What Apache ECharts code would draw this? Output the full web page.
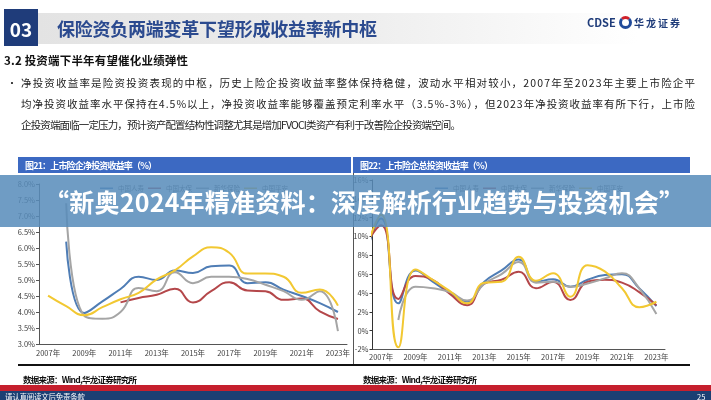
<!DOCTYPE html>
<html><head><meta charset="utf-8">
<script src="https://cdn.jsdelivr.net/npm/echarts@6/dist/echarts.min.js"></script>
<style>
body{margin:0;width:711px;height:400px;overflow:hidden;background:#fff;position:relative;font-family:"Noto Sans CJK SC",sans-serif}
.a{position:absolute;white-space:nowrap}
svg text{font-family:"Noto Sans CJK SC",sans-serif;dominant-baseline:central}
</style></head><body>
<!-- background shapes -->
<div class="a" style="left:38px;top:13px;width:600px;height:31px;background:linear-gradient(to right,#e3e3e3,#eeeeee 55%,#ffffff)"></div>
<div class="a" style="left:4px;top:9px;width:34px;height:37px;background:#1f3c7a"></div>
<div class="a" style="left:619px;top:16px;width:7px;height:7px;border:3px solid #1f4a9a;border-top-color:#d0202a;border-radius:50%"></div>
<div class="a" style="left:18px;top:157px;width:333px;height:16px;background:#3c69c2"></div>
<div class="a" style="left:353px;top:157px;width:337px;height:16px;background:#3c69c2"></div>
<div class="a" style="left:353px;top:173px;width:1px;height:192px;background:#555"></div>
<div class="a" style="left:18px;top:364px;width:672px;height:1.5px;background:#111"></div>
<div class="a" style="left:0;top:385px;width:711px;height:6px;background:#c51f2d"></div>
<div class="a" style="left:0;top:391px;width:711px;height:9px;background:#1b3f73"></div>
<!-- chart -->
<div id="chart" class="a" style="left:0;top:0;width:711px;height:400px"></div>
<!-- texts and banner -->
<svg class="a" style="left:0;top:0;z-index:5;pointer-events:none" width="711" height="400">
  <text x="21" y="28.5" font-size="19" font-weight="bold" fill="#fff" text-anchor="middle">03</text>
  <text x="57" y="28" font-size="18" font-weight="bold" fill="#2b4a8f" textLength="320" lengthAdjust="spacing">保险资负两端变革下望形成收益率新中枢</text>
  <text x="587" y="22" font-size="11" font-weight="bold" fill="#1f3c7a">CDSE</text>
  <text x="634" y="22.5" font-size="10" font-weight="bold" fill="#1f3c7a" textLength="46" lengthAdjust="spacing">华龙证券</text>
  <text x="4" y="60" font-size="11.5" font-weight="bold" fill="#111" textLength="184" lengthAdjust="spacing">3.2 投资端下半年有望催化业绩弹性</text>
  <text x="7" y="82" font-size="10" fill="#222">•</text>
  <text x="21" y="82" font-size="10.5" fill="#222" textLength="674" lengthAdjust="spacing">净投资收益率是险资投资表现的中枢，历史上险企投资收益率整体保持稳健，波动水平相对较小，2007年至2023年主要上市险企平</text>
  <text x="21" y="103" font-size="10.5" fill="#222" textLength="674" lengthAdjust="spacing">均净投资收益率水平保持在4.5%以上，净投资收益率能够覆盖预定利率水平（3.5%-3%），但2023年净投资收益率有所下行，上市险</text>
  <text x="21" y="124" font-size="10.5" fill="#222" textLength="440" lengthAdjust="spacing">企投资端面临一定压力，预计资产配置结构性调整尤其是增加FVOCI类资产有利于改善险企投资端空间。</text>
  <text x="25" y="165" font-size="9" font-weight="bold" fill="#fff" textLength="132" lengthAdjust="spacing">图21：上市险企净投资收益率（%）</text>
  <text x="360" y="165" font-size="9" font-weight="bold" fill="#fff" textLength="133" lengthAdjust="spacing">图22：上市险企总投资收益率（%）</text>
  <text x="23" y="379" font-size="8.5" font-weight="bold" fill="#111" textLength="114" lengthAdjust="spacing">数据来源：Wind,华龙证券研究所</text>
  <text x="363" y="379" font-size="8.5" font-weight="bold" fill="#111" textLength="114" lengthAdjust="spacing">数据来源：Wind,华龙证券研究所</text>
  <text x="5" y="396" font-size="7.5" fill="#fff" textLength="80" lengthAdjust="spacing">请认真阅读文后免责条款</text>
  <text x="697" y="396" font-size="7.5" fill="#fff">25</text>
  <rect x="0" y="175" width="711" height="52" fill="rgb(87,140,186)" fill-opacity="0.86"></rect>
  <text x="44" y="201" font-size="25" font-weight="bold" fill="#fff" textLength="640" lengthAdjust="spacing">“新奥2024年精准资料：深度解析行业趋势与投资机会”</text>
</svg>
<script>
// ---- data ----
var names = ['中国人寿','中国太保','新华保险','中国平安'];
var colors = ['#4f7db5','#b4474a','#a5a5a5','#f2c832'];

// 图21 净投资收益率 (%)
var years1 = ['2007','2008','2009','2010','2011','2012','2013','2014','2015','2016','2017','2018','2019','2020','2021','2022','2023'];
var life1 = [null,6.2,3.97,4.33,4.72,5.1,5.0,5.3,5.22,5.43,5.45,4.9,4.93,4.7,4.5,4.28,4.0];
var cpic1 = [null,null,null,null,4.3,4.44,4.54,4.73,4.3,4.65,4.93,4.67,4.65,4.38,4.42,4.02,3.78];
var nci1  = [null,7.4,3.88,3.79,4.0,4.75,4.65,5.24,4.9,5.1,5.1,5.03,4.85,4.65,4.38,4.65,3.4];
var pa1   = [4.51,4.18,3.9,4.15,4.4,4.6,5.02,5.3,5.74,6.02,5.85,5.2,5.2,5.1,4.6,4.7,4.2];

// 图22 总投资收益率 (%) ; first value is the lead-in year cut by the axis
var years2 = ['2007','2008','2009','2010','2011','2012','2013','2014','2015','2016','2017','2018','2019','2020','2021','2022','2023'];
var years2Num = [2006,2007,2008,2009,2010,2011,2012,2013,2014,2015,2016,2017,2018,2019,2020,2021,2022,2023];
var life2 = [7.4,11.9,2.9,6.4,5.2,4.0,3.1,5.2,6.4,7.56,5.2,5.45,4.66,5.4,5.9,6.0,4.5,2.6];
var cpic2 = [8.8,11.2,3.36,5.8,5.4,3.9,2.7,5.0,5.4,6.25,4.5,5.2,3.25,5.2,5.4,5.1,4.1,2.7];
var nci2  = [null,null,1.13,4.66,4.5,4.1,3.2,5.0,6.0,7.3,5.1,5.2,4.66,5.0,5.55,6.1,4.5,1.77];
var pa2   = [8.0,12.3,-1.77,6.5,5.4,4.2,2.9,5.1,5.2,7.85,5.3,6.1,3.6,6.96,6.3,4.5,2.5,3.07];

function pairs(arr){
  var out=[];
  for(var i=0;i<arr.length;i++){ if(arr[i]!==null) out.push([years2Num[i],arr[i]]); }
  return out;
}

var lbl = {fontSize:7.5,color:'#404040',fontFamily:'Noto Sans CJK SC'};
var chart = echarts.init(document.getElementById('chart'));
var s1 = [life1,cpic1,nci1,pa1], s2=[life2,cpic2,nci2,pa2];
var series = [];
for (var k=0;k<4;k++){
  series.push({name:names[k],type:'line',xAxisIndex:0,yAxisIndex:0,data:s1[k],smooth:true,showSymbol:false,
    lineStyle:{width:2,color:colors[k]},itemStyle:{color:colors[k]}});
}
for (var k=0;k<4;k++){
  series.push({name:names[k],type:'line',xAxisIndex:1,yAxisIndex:1,data:pairs(s2[k]),smooth:true,showSymbol:false,clip:true,
    lineStyle:{width:2,color:colors[k]},itemStyle:{color:colors[k]}});
}
var legendBase = {data:names,icon:'rect',itemWidth:13,itemHeight:1.5,itemGap:4,textStyle:{fontSize:6.5,color:'#666',fontFamily:'Noto Sans CJK SC'}};
chart.setOption({
  animation:false,
  color:colors,
  legend:[
    Object.assign({left:95,top:180},legendBase),
    Object.assign({left:430,top:180},legendBase)
  ],
  grid:[
    {left:39,top:184,width:308,height:160},
    {left:372.5,top:180,width:292.5,height:169.5}
  ],
  xAxis:[
    {type:'category',gridIndex:0,data:years1,boundaryGap:true,
     axisLine:{lineStyle:{color:'#555'}},axisTick:{interval:1,length:3,lineStyle:{color:'#555'}},
     axisLabel:Object.assign({interval:1,margin:5,formatter:function(v){return v+'年';}},lbl)},
    {type:'value',gridIndex:1,min:2006.5,max:2023.5,show:false},
    {type:'category',gridIndex:1,data:years2,boundaryGap:true,position:'bottom',
     axisLine:{show:false,onZero:false},axisTick:{show:false},
     axisLabel:Object.assign({interval:1,margin:4,formatter:function(v){return v+'年';}},lbl)},
    {type:'category',gridIndex:1,data:years2,boundaryGap:true,position:'bottom',
     axisLine:{show:true,onZero:true,lineStyle:{color:'#555'}},axisTick:{interval:1,length:3,lineStyle:{color:'#555'}},
     axisLabel:{show:false}}
  ],
  yAxis:[
    {type:'value',gridIndex:0,min:3,max:8,interval:0.5,
     axisLine:{show:true,onZero:false,lineStyle:{color:'#555'}},axisTick:{show:true,length:3,lineStyle:{color:'#555'}},
     splitLine:{show:false},
     axisLabel:Object.assign({margin:4,hideOverlap:false,formatter:function(v){return v.toFixed(1)+'%';}},lbl)},
    {type:'value',gridIndex:1,min:-2,max:16,interval:2,
     axisLine:{show:true,onZero:false,lineStyle:{color:'#333'}},axisTick:{show:true,length:3,lineStyle:{color:'#333'}},
     splitLine:{show:false},
     axisLabel:Object.assign({margin:4,hideOverlap:false,formatter:function(v){return v+'%';}},lbl)}
  ],
  series:series
});
</script>
</body></html>
